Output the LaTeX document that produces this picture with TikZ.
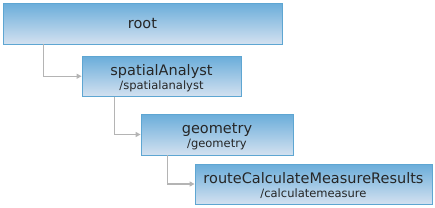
\documentclass[tikz,border=0pt]{standalone}
\usepackage{fontspec}
\setmainfont{DejaVu Sans}
\usetikzlibrary{arrows.meta,calc}
\definecolor{boxtop}{HTML}{6AADDA}
\definecolor{boxbottom}{HTML}{D3E1F0}
\definecolor{boxline}{HTML}{5EA6D2}
\definecolor{wire}{HTML}{B4B4B4}
\newcommand\headtext[1]{{\fontsize{14.5}{14}\selectfont\rule{0pt}{14pt}#1}}
\newcommand\pathtext[1]{{\fontsize{11.5}{14}\selectfont #1}}
\begin{document}
\begin{tikzpicture}[
    x=1pt,y=-1pt,
    res/.style={draw=boxline,line width=0.8pt,top color=boxtop,bottom color=boxbottom,
        inner sep=0pt,align=center,text=black!85,font=\fontsize{11.5}{14}\selectfont},
    link/.style={draw=wire,line width=1.4pt,-{Triangle[length=5pt,width=5pt]}}
]
    \useasboundingbox (0,0) rectangle (435,207);
    \node[res,minimum width=279,minimum height=41] (root) at (142.5,23.5) {\fontsize{14.5}{16}\selectfont root};
    \node[res,minimum width=159,minimum height=40] (spatial) at (161.5,76.25)
        {\headtext{spatialAnalyst}\\\pathtext{/spatialanalyst}};
    \node[res,minimum width=152,minimum height=41] (geometry) at (217,134.5)
        {\headtext{geometry}\\\pathtext{/geometry}};
    \node[res,minimum width=237,minimum height=40] (route) at (313.5,184)
        {\headtext{routeCalculateMeasureResults}\\\pathtext{/calculatemeasure}};
    \draw[link] ($(root.south west)+(41,0)$) |- (spatial.west);
    \draw[link] ($(spatial.south west)+(33,0)$) |- (geometry.west);
    \draw[link] ($(geometry.south west)+(27,0)$) |- (route.west);
\end{tikzpicture}
\end{document}
